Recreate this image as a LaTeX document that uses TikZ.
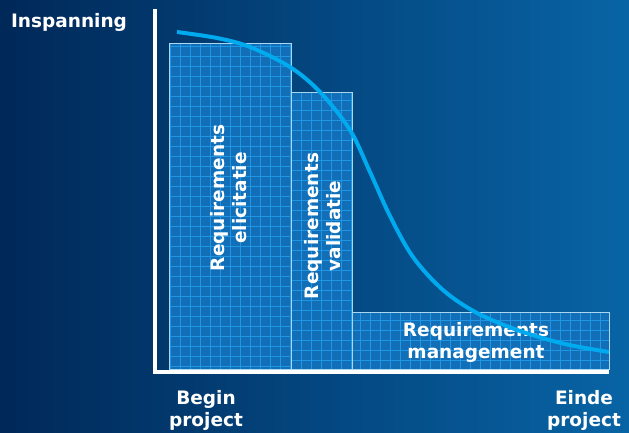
\documentclass[tikz,border=0pt]{standalone}
\usepackage{fontspec}
\setmainfont{DejaVu Sans}
\definecolor{bgleft}{RGB}{0,40,88}
\definecolor{bgright}{RGB}{8,100,165}
\definecolor{boxfill}{RGB}{18,110,182}
\definecolor{gridblue}{RGB}{30,150,228}
\definecolor{boxedge}{RGB}{170,215,240}
\definecolor{curveblue}{RGB}{0,170,238}
\newcommand{\lblfont}{\fontsize{18.5}{22}\selectfont\bfseries}

\begin{document}
\begin{tikzpicture}[x=1pt,y=-1pt,
  lbl/.style={text=white,font=\lblfont,inner sep=0pt,align=center},
  phase/.style={draw=boxedge,line width=0.8pt,fill=boxfill,anchor=north west,outer sep=0pt,
    path picture={\draw[gridblue,line width=0.6pt,step=10pt] (path picture bounding box.south west) grid (path picture bounding box.north east);}},
  axis/.style={white,line width=4pt}]
\useasboundingbox (0,0) rectangle (629,433);
\shade[left color=bgleft,right color=bgright] (0,0) rectangle (629,433);
%% axes
\coordinate (ytop) at (155,9);
\coordinate (orig) at (155,372);
\coordinate (xend) at (609,372);
\draw[axis] (ytop) -- (orig) -- (xend);
%% nodes
\node[phase,minimum width=122pt,minimum height=326pt] (elic) at (169,43) {};
\node[phase,minimum width=61pt,minimum height=277pt] (val) at (291,92) {};
\node[phase,minimum width=257pt,minimum height=57pt] (mgmt) at (352,312) {};
\node[lbl,rotate=90] (elicTxt) at (229,198) {Requirements\\elicitatie};
\node[lbl,rotate=90] (valTxt) at (323,226) {Requirements\\validatie};
\node[lbl] (mgmtTxt) at (476,342) {Requirements\\management};
\node[lbl] (yLabel) at (69,22) {Inspanning};
\node[lbl] (begin) at (206,410) {Begin\\project};
\node[lbl] (einde) at (584,410) {Einde\\project};
%%% curve
\draw[curveblue,line width=4pt] plot[smooth,tension=0.55] coordinates {(177,32) (217,38) (250,47) (290,67) (320,92) (350,130) (370,172) (390,216) (413,257) (443,290) (477,313) (520,331) (565,344) (609,352)};
\end{tikzpicture}
\end{document}
